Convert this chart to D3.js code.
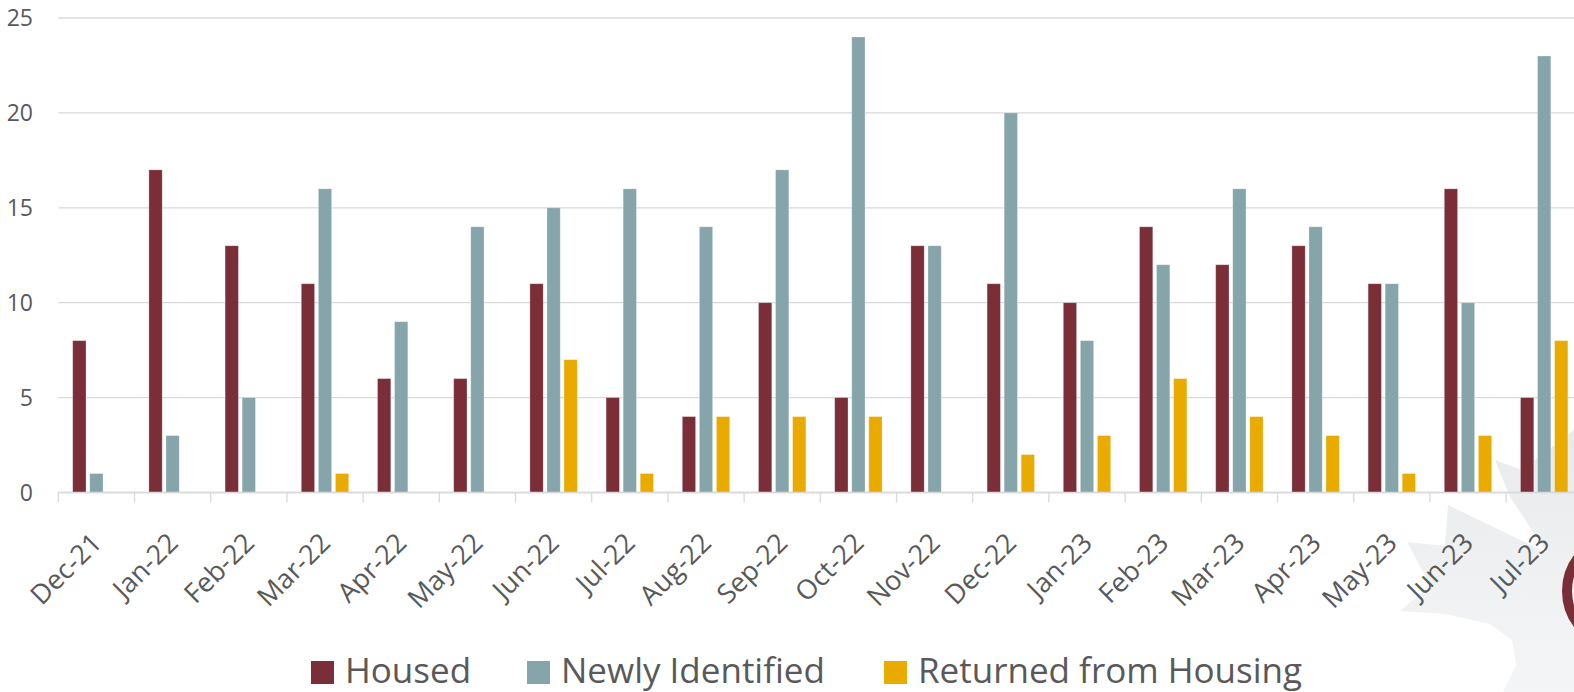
<!DOCTYPE html>
<html>
<head>
<meta charset="utf-8">
<script src="https://cdn.jsdelivr.net/npm/d3@7/dist/d3.min.js"></script>
<style>
html,body{margin:0;padding:0;background:#fff;overflow:hidden;}
svg{display:block;}
</style>
</head>
<body>
<svg id="chart" width="1574" height="692"></svg>
<script>
const categories = ["Dec-21","Jan-22","Feb-22","Mar-22","Apr-22","May-22","Jun-22","Jul-22","Aug-22","Sep-22","Oct-22","Nov-22","Dec-22","Jan-23","Feb-23","Mar-23","Apr-23","May-23","Jun-23","Jul-23"];
const housed = [8,17,13,11,6,6,11,5,4,10,5,13,11,10,14,12,13,11,16,5];
const newlyIdentified = [1,3,5,16,9,14,15,16,14,17,24,13,20,8,12,16,14,11,10,23];
const returnedFromHousing = [0,0,0,1,0,0,7,1,4,4,4,0,2,3,6,4,3,1,3,8];
const seriesNames = ["Housed","Newly Identified","Returned from Housing"];
const seriesColors = ["#7a2e37","#86a5aa","#e9ab00"];
const yTicks = [0,5,10,15,20,25];

(function(){
const series = [housed, newlyIdentified, returnedFromHousing];
const svg = d3.select("#chart");
const W = 1574, H = 692;
const plotLeft = 58.3, bandW = 76.2;
const plotTop = 18, plotBottom = 492.5;
const font = "'Open Sans', 'Noto Sans', sans-serif";
const textColor = "#595959";

// watermark (decorative)
const wm = svg.append("g");
const wmPts = [[1495,460],[1522,470],[1574,430],[1574,692],[1503,692],[1516,665],[1512,640],[1490,624],[1445,614],[1400,611],[1430,585],[1407,542],[1445,546],[1448,505],[1547,553],[1510,497]];
const defs = svg.append("defs");
const grad = defs.append("linearGradient").attr("id","wmg").attr("x1","0").attr("y1","0").attr("x2","0").attr("y2","1");
grad.append("stop").attr("offset","0").attr("stop-color","#e8ebed");
grad.append("stop").attr("offset","1").attr("stop-color","#f4f5f6");
wm.append("path").attr("d", d3.line().curve(d3.curveLinearClosed)(wmPts)).attr("fill","url(#wmg)");
wm.append("circle").attr("cx",1622).attr("cy",591).attr("r",55).attr("fill","none").attr("stroke","#7a2e37").attr("stroke-width",10);

const x = d3.scaleBand().domain(categories).range([plotLeft, plotLeft + bandW*categories.length]).paddingInner(0).paddingOuter(0);
const x1 = d3.scaleBand().domain(d3.range(series.length)).range([14.4, bandW-14.4]).paddingInner(0.22).paddingOuter(0);
const y = d3.scaleLinear().domain([0,25]).range([plotBottom, plotTop]);

// gridlines
svg.append("g").selectAll("line").data(yTicks).join("line")
  .attr("x1", plotLeft).attr("x2", W).attr("y1", d=>y(d)).attr("y2", d=>y(d))
  .attr("stroke","#d9d9d9").attr("stroke-width",1.3);

// y labels
svg.append("g").selectAll("text").data(yTicks).join("text")
  .attr("x", 33).attr("y", d=>y(d)).attr("dy","0.36em").attr("text-anchor","end")
  .attr("font-family",font).attr("font-size",23).attr("fill",textColor).text(d=>d);

// bars
const groups = svg.append("g").selectAll("g").data(categories).join("g")
  .attr("transform", d=>`translate(${x(d)},0)`);
groups.selectAll("rect").data((d,i)=>series.map((s,k)=>({k, v:s[i]}))).join("rect")
  .attr("x", d=>x1(d.k)).attr("width", x1.bandwidth())
  .attr("y", d=>y(d.v)).attr("height", d=>y(0)-y(d.v))
  .attr("fill", d=>seriesColors[d.k])
  .attr("stroke","#ffffff").attr("stroke-opacity",0.35).attr("stroke-width",0.8);

// x axis line and ticks
const xAxis = svg.append("g");
xAxis.append("line").attr("x1",plotLeft).attr("x2",W).attr("y1",plotBottom).attr("y2",plotBottom).attr("stroke","#d9d9d9").attr("stroke-width",1.3);
const tickXs = d3.range(categories.length+1).map(i=>plotLeft + i*bandW);
xAxis.selectAll("line.t").data(tickXs).join("line").attr("class","t")
  .attr("x1",d=>d).attr("x2",d=>d).attr("y1",plotBottom).attr("y2",plotBottom+10)
  .attr("stroke","#d9d9d9").attr("stroke-width",1.3);
xAxis.selectAll("text").data(categories).join("text")
  .attr("transform", d=>`translate(${x(d)+x.bandwidth()/2+7},${plotBottom+52}) rotate(-45)`)
  .attr("text-anchor","end").attr("font-family",font).attr("font-size",27).attr("fill",textColor).text(d=>d);

// legend
const legendXs = [311,527,884];
const lg = svg.append("g");
seriesNames.forEach((n,i)=>{
  lg.append("rect").attr("x",legendXs[i]).attr("y",661).attr("width",23).attr("height",23).attr("fill",seriesColors[i]);
  lg.append("text").attr("x",legendXs[i]+34).attr("y",683).attr("font-family",font).attr("font-size",35).attr("fill",textColor).text(n);
});
})();
</script>
</body>
</html>
